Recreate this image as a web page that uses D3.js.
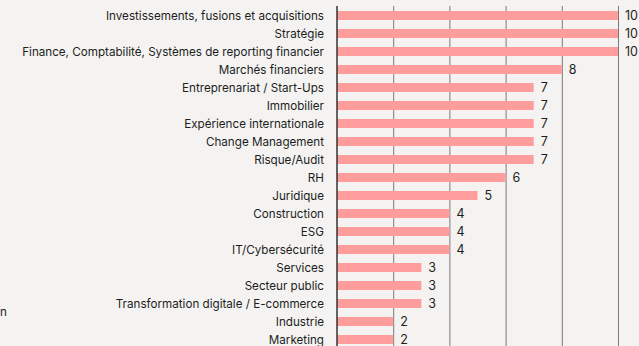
<!DOCTYPE html>
<html><head><meta charset="utf-8">
<script src="https://cdn.jsdelivr.net/npm/d3@7"></script>
<style>
html,body{margin:0;padding:0;background:#f4f3f1;}
svg{display:block;}
text{font-family:Inter,"Noto Sans",sans-serif;fill:#1e1e1e;}
</style></head><body>
<svg id="c" width="639" height="346"></svg>
<script>
const categories = ["Investissements, fusions et acquisitions","Stratégie","Finance, Comptabilité, Systèmes de reporting financier","Marchés financiers","Entreprenariat / Start-Ups","Immobilier","Expérience internationale","Change Management","Risque/Audit","RH","Juridique","Construction","ESG","IT/Cybersécurité","Services","Secteur public","Transformation digitale / E-commerce","Industrie","Marketing"];
const values = [10,10,10,8,7,7,7,7,7,6,5,4,4,4,3,3,3,2,2];
const gridTicks = [2,4,6,8,10];

const svg = d3.select("#c");
const x = d3.scaleLinear().domain([0,10]).range([337,618]);
const y = d3.scaleBand().domain(categories).range([6.5, 6.5 + 18*categories.length]).paddingInner(0.5).paddingOuter(0.25);

const yTop = 6, yBottom = 346;
svg.append("g").selectAll("line").data(gridTicks).join("line")
  .attr("x1",d=>x(d)+0.5).attr("x2",d=>x(d)+0.5).attr("y1",yTop).attr("y2",yBottom)
  .attr("stroke","#7a7a7a").attr("stroke-width",1);

svg.append("g").selectAll("rect").data(values).join("rect")
  .attr("x",x(0)).attr("y",(d,i)=>y(categories[i]))
  .attr("width",d=>x(d)-x(0)).attr("height",y.bandwidth())
  .attr("fill","#ff9d9c");

svg.append("line").attr("x1",x(0)).attr("x2",x(0)).attr("y1",yTop).attr("y2",yBottom)
  .attr("stroke","#333").attr("stroke-width",1.5);

svg.append("g").selectAll("text").data(categories).join("text")
  .attr("x",324).attr("y",d=>y(d)+y.bandwidth()/2).attr("dy","0.35em")
  .attr("text-anchor","end").attr("font-size",11.65).text(d=>d);

svg.append("g").selectAll("text").data(values).join("text")
  .attr("x",d=>x(d)+7).attr("y",(d,i)=>y(categories[i])+y.bandwidth()/2).attr("dy","0.35em")
  .attr("font-size",12.5).text(d=>d);

svg.append("text").attr("x",0).attr("y",316).attr("font-size",11.65).text("n");
</script></body></html>
